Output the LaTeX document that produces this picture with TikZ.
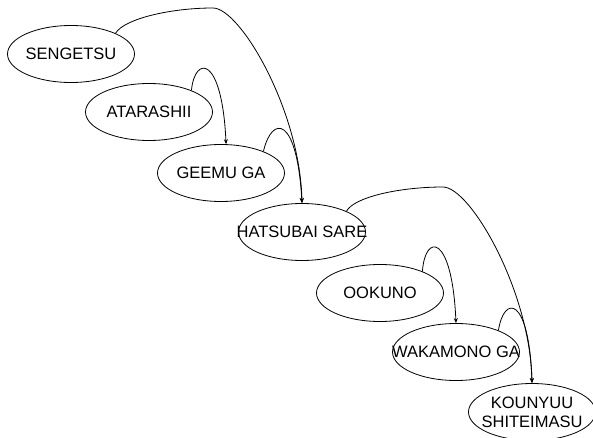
\documentclass[tikz,border=0pt]{standalone}
\usepackage{fontspec}
\setmainfont{Liberation Sans}
\usetikzlibrary{shapes.geometric,arrows.meta}
\begin{document}
\begin{tikzpicture}[x=1pt,y=-1pt,
  bubble/.style={draw,ellipse,line width=0.8pt,minimum width=127pt,minimum height=57pt,inner sep=0pt},
  word/.style={font=\fontsize{16.5}{19}\selectfont,align=center,inner sep=0pt},
  link/.style={draw,line width=0.8pt,-{Stealth[length=5pt,width=4pt]}}]
\useasboundingbox (0,0) rectangle (593,438);
% bubbles
\node[bubble] (sen) at (71,54) {};
\node[bubble] (ata) at (149,112) {};
\node[bubble] (gee) at (221,173) {};
\node[bubble] (hat) at (302,232) {};
\node[bubble] (ook) at (380,293) {};
\node[bubble] (wak) at (456,352) {};
\node[bubble] (kou) at (532,412) {};
% texts
\node[word] (tsen) at (sen) {SENGETSU};
\node[word] (tata) at (ata) {ATARASHII};
\node[word] (tgee) at (gee) {GEEMU GA};
\node[word] (that) at (hat) {HATSUBAI SARE};
\node[word] (took) at (ook) {OOKUNO};
\node[word] (twak) at (wak) {WAKAMONO GA};
\node[word] (tkou) at (kou) {KOUNYUU\\SHITEIMASU};
% connectors
\path[link] (sen.25) .. controls (124,19) and (170,8) .. (213,8)
  .. controls (240,8) and (300,110) .. (hat.north);
\path[link] (ata.27) .. controls (195,55) and (222,55) .. (gee.80);
\path[link] (gee.27) .. controls (272,115) and (297,115) .. (hat.north);
\path[link] (hat.25) .. controls (354,197) and (400,187) .. (443,187)
  .. controls (470,187) and (530,290) .. (kou.north);
\path[link] (ook.27) .. controls (425,233) and (452,233) .. (wak.north);
\path[link] (wak.27) .. controls (504,295) and (529,295) .. (kou.north);
\end{tikzpicture}
\end{document}
